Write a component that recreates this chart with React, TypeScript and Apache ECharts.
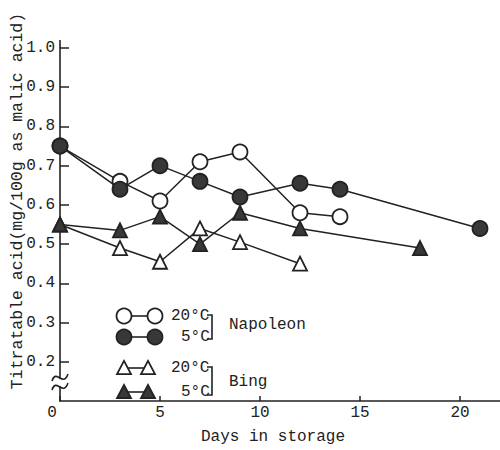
import React, { useEffect, useRef } from "react";
import * as echarts from "echarts";

const xTicks = [0, 5, 10, 15, 20];
const yTicks = [0.2, 0.3, 0.4, 0.5, 0.6, 0.7, 0.8, 0.9, 1.0];

const napoleon20: [number, number][] = [[0, 0.75], [3, 0.66], [5, 0.61], [7, 0.71], [9, 0.735], [12, 0.58], [14, 0.57]];
const napoleon5: [number, number][] = [[0, 0.75], [3, 0.64], [5, 0.70], [7, 0.66], [9, 0.62], [12, 0.655], [14, 0.64], [21, 0.54]];
const bing20: [number, number][] = [[0, 0.55], [3, 0.49], [5, 0.455], [7, 0.54], [9, 0.505], [12, 0.45]];
const bing5: [number, number][] = [[0, 0.55], [3, 0.535], [5, 0.57], [7, 0.50], [9, 0.58], [12, 0.54], [18, 0.49]];

const FONT = "Liberation Mono";
const INK = "#222222";
const FILL = "#383838";

function tri(cx: number, cy: number, s: number) {
  const h = s * 0.87;
  return [[cx, cy - h / 2 - 1], [cx - s / 2, cy + h / 2], [cx + s / 2, cy + h / 2]];
}

export default function App() {
  const ref = useRef<HTMLDivElement>(null);
  useEffect(() => {
    document.body.style.margin = "0";
    const chart = echarts.init(ref.current!, null, { renderer: "svg" });
    const lineStyle = { color: INK, width: 1.5 };
    const mk = (name: string, data: [number, number][], symbol: string, size: number, filled: boolean) => ({
      name,
      type: "line",
      data,
      symbol,
      symbolSize: size,
      showSymbol: true,
      lineStyle,
      itemStyle: { color: filled ? FILL : "#ffffff", borderColor: INK, borderWidth: 1.8 },
      z: filled ? 3 : 2,
    });
    const legendText = (text: string, x: number, y: number, align: string = "left") => ({
      type: "text",
      x,
      y,
      style: { text, fontFamily: FONT, fontSize: 16, fill: INK, textAlign: align, textVerticalAlign: "middle" },
    });
    const lline = (x1: number, y1: number, x2: number, y2: number) => ({
      type: "line",
      shape: { x1, y1, x2, y2 },
      style: { stroke: INK, lineWidth: 1.6 },
    });
    const circ = (cx: number, cy: number, filled: boolean) => ({
      type: "circle",
      shape: { cx, cy, r: 7.5 },
      style: { fill: filled ? FILL : "#fff", stroke: INK, lineWidth: 1.8 },
      z: 10,
    });
    const triG = (cx: number, cy: number, filled: boolean) => ({
      type: "polygon",
      shape: { points: tri(cx, cy, 14) },
      style: { fill: filled ? FILL : "#fff", stroke: INK, lineWidth: 1.8 },
      z: 10,
    });
    const bracket = (x: number, y1: number, y2: number) => ({
      type: "polyline",
      shape: { points: [[x - 5, y1], [x, y1], [x, y2], [x - 5, y2]] },
      style: { stroke: INK, lineWidth: 1.6, fill: null },
    });
    chart.setOption({
      animation: false,
      backgroundColor: "#ffffff",
      grid: { left: 60, right: 0, top: 48, bottom: 42 },
      xAxis: {
        type: "value",
        min: 0,
        max: 22,
        interval: 5,
        name: "Days in storage",
        nameLocation: "middle",
        nameGap: 28,
        nameTextStyle: { fontFamily: FONT, fontSize: 16, color: INK, padding: [0, 14, 0, 0] },
        axisLine: { lineStyle: { color: INK, width: 1.6 } },
        axisTick: { inside: true, length: 5, customValues: xTicks, lineStyle: { color: INK, width: 1.5 } },
        axisLabel: {
          customValues: xTicks,
          fontFamily: FONT,
          fontSize: 16,
          color: INK,
          margin: 4,
          formatter: (v: number) => (v === 0 ? "{z|0}" : String(v)),
          rich: { z: { fontFamily: FONT, fontSize: 16, color: INK, padding: [0, 16, 0, 0] } },
        },
        splitLine: { show: false },
      },
      yAxis: {
        type: "value",
        min: 0.1,
        max: 1.0,
        interval: 0.1,
        axisLine: { show: true, lineStyle: { color: INK, width: 1.6 } },
        axisTick: { show: true, inside: true, length: 9, customValues: yTicks, lineStyle: { color: INK, width: 1.5 } },
        axisLabel: {
          customValues: yTicks,
          fontFamily: FONT,
          fontSize: 16,
          color: INK,
          margin: 5,
          formatter: (v: number) => v.toFixed(1),
        },
        splitLine: { show: false },
      },
      series: [
        mk("Napoleon 20°C", napoleon20, "circle", 15, false),
        mk("Napoleon 5°C", napoleon5, "circle", 15, true),
        mk("Bing 20°C", bing20, "triangle", 14, false),
        mk("Bing 5°C", bing5, "triangle", 14, true),
      ],
      graphic: [
        {
          type: "text",
          x: 17,
          y: 201,
          rotation: Math.PI / 2,
          style: {
            text: "Titratable acid(mg/100g as malic acid)",
            fontFamily: FONT,
            fontSize: 16.5,
            fill: INK,
            textAlign: "center",
            textVerticalAlign: "middle",
          },
        },
        lline(60, 40, 60, 48),
        { type: "rect", shape: { x: 57, y: 379, width: 6, height: 7 }, style: { fill: "#fff" }, z: 20 },
        {
          type: "bezierCurve",
          shape: { x1: 52, y1: 381, cpx1: 56, cpy1: 368, cpx2: 63, cpy2: 388, x2: 68, y2: 374 },
          style: { stroke: INK, lineWidth: 1.6, fill: null },
          z: 21,
        },
        {
          type: "bezierCurve",
          shape: { x1: 52, y1: 390, cpx1: 56, cpy1: 377, cpx2: 63, cpy2: 397, x2: 68, y2: 383 },
          style: { stroke: INK, lineWidth: 1.6, fill: null },
          z: 21,
        },
        // Napoleon legend
        lline(124, 316, 155, 316),
        circ(124, 316, false),
        circ(155, 316, false),
        legendText("20°C", 171, 316),
        lline(124, 337, 155, 337),
        circ(124, 337, true),
        circ(155, 337, true),
        legendText("5°C", 181, 337),
        bracket(212, 315, 339),
        legendText("Napoleon", 229, 325),
        // Bing legend
        lline(124, 368, 148, 368),
        triG(124, 368, false),
        triG(148, 368, false),
        legendText("20°C", 171, 368),
        lline(124, 392, 148, 392),
        triG(124, 392, true),
        triG(148, 392, true),
        legendText("5°C", 181, 392),
        bracket(212, 367, 395),
        legendText("Bing", 229, 382),
      ],
    });
    return () => chart.dispose();
  }, []);
  return <div ref={ref} style={{ width: 500, height: 450 }} />;
}
